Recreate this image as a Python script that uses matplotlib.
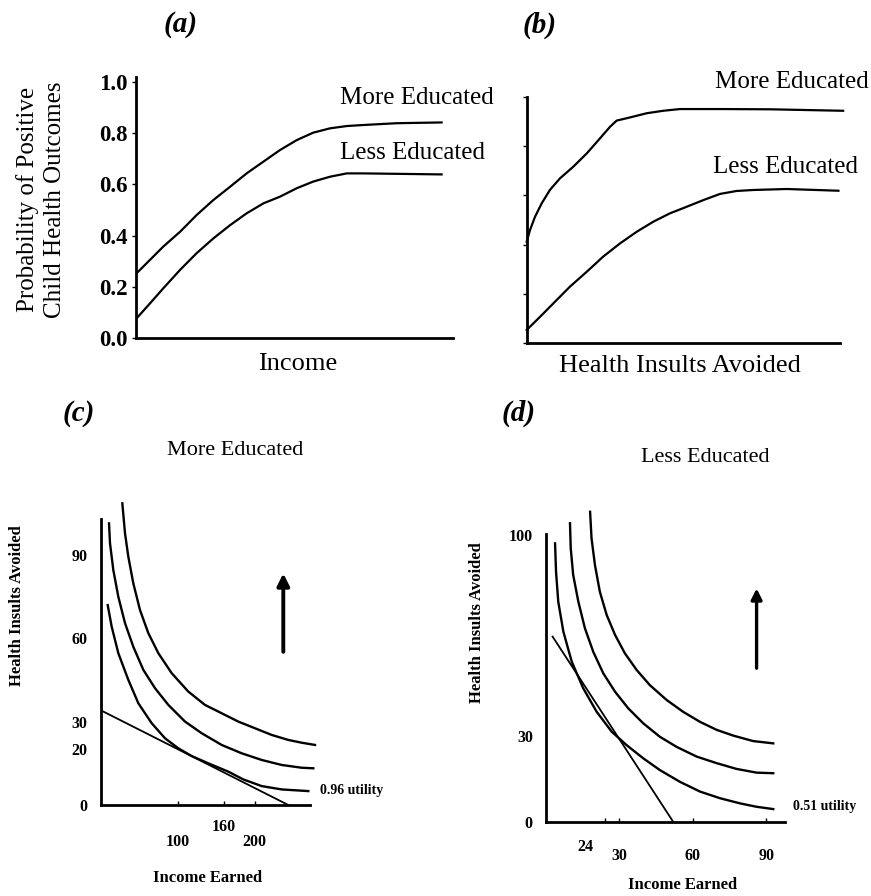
import matplotlib
matplotlib.use('Agg')
import matplotlib.pyplot as plt
import matplotlib.transforms as mtransforms

plt.rcParams['font.family'] = ['Liberation Serif', 'DejaVu Serif']

W, H = 871, 896

# (a) probability vs income
a_more_x = [0.2, 4.4, 8.6, 13.9, 19.1, 24.4, 29.7, 34.9, 40.2, 45.4, 50.7, 55.9,
            61.2, 66.5, 71.7, 82.2, 96.4]
a_more = [0.253, 0.305, 0.357, 0.415, 0.480, 0.539, 0.591, 0.643, 0.689, 0.734,
          0.773, 0.802, 0.819, 0.828, 0.832, 0.839, 0.842]
a_less_x = [0.2, 4.4, 8.6, 13.9, 19.1, 24.4, 29.7, 34.9, 40.2, 45.4, 50.7, 55.9,
            61.2, 66.5, 71.7, 96.4]
a_less = [0.077, 0.135, 0.194, 0.266, 0.331, 0.389, 0.441, 0.487, 0.526, 0.552,
          0.585, 0.611, 0.630, 0.643, 0.643, 0.639]
a_ticks = [0.0, 0.2, 0.4, 0.6, 0.8, 1.0]

# (b) probability vs health insults avoided
b_more_x = [0, 1.05, 2.65, 4.8, 7.4, 10.6, 14.9, 19.2, 23.4, 26.6, 28.7, 33.0,
            38.3, 43.6, 48.9, 61.7, 77.7, 101]
b_more = [0.412, 0.459, 0.513, 0.568, 0.622, 0.669, 0.717, 0.771, 0.832, 0.879,
          0.904, 0.917, 0.934, 0.944, 0.951, 0.951, 0.950, 0.944]
b_less_x = [0, 4.3, 8.5, 13.8, 19.2, 24.4, 29.8, 35.1, 40.4, 45.7, 51.1, 56.4,
            61.7, 67.0, 72.3, 83.0, 99.5]
b_less = [0.053, 0.107, 0.161, 0.229, 0.290, 0.351, 0.405, 0.452, 0.493, 0.527,
          0.554, 0.581, 0.606, 0.618, 0.622, 0.626, 0.619]

# (c) more educated: indifference curves and budget line
c_low_x = [9.1, 14.3, 22.9, 35.9, 48.9, 66.3, 83.6, 100.8, 118.3, 139.8, 165.8,
           185.3, 209.2, 235.2, 269.8]
c_low_y = [71.9, 64.1, 54.6, 45.0, 36.6, 29.4, 24.0, 20.4, 17.6, 15.0, 12.0,
           9.2, 6.8, 5.6, 5.0]
c_mid_x = [10.8, 12.1, 16.4, 22.9, 31.6, 42.4, 55.4, 70.6, 87.9, 109.6, 131.3,
           157.2, 183.2, 209.2, 235.2, 261.2, 276.3]
c_mid_y = [101.3, 94.1, 84.5, 74.9, 65.4, 56.9, 48.6, 42.0, 36.0, 30.0, 25.8,
           21.6, 18.6, 16.2, 14.4, 13.4, 13.2]
c_top_x = [28.1, 31.6, 35.9, 42.4, 51.1, 61.9, 74.9, 92.3, 113.8, 135.5, 157.2,
           178.8, 200.5, 222.2, 243.8, 261.2, 278.5]
c_top_y = [108.5, 97.7, 89.3, 79.7, 70.1, 61.8, 54.6, 47.4, 40.8, 36.0, 33.0,
           30.0, 27.6, 25.2, 23.4, 22.4, 21.6]
c_budget_x = [1.3, 243.8]
c_budget_y = [33.9, 0]
c_xticks = [100, 160, 200]
c_yticks = [0, 20, 30, 60, 90]
c_arrow_x = 237.3
c_arrow_y = [55.1, 83.3]

# (d) less educated: indifference curves and budget line
d_low_x = [3.7, 4.1, 5.0, 7.1, 10.5, 15.2, 20.7, 26.8, 32.9, 39.7, 46.5, 54.7,
           62.9, 71.0, 79.2, 86.0, 92.8]
d_low_y = [97.1, 87.2, 76.8, 66.3, 55.9, 46.6, 38.4, 31.5, 26.8, 22.2, 18.1,
           14.0, 10.6, 8.3, 6.5, 5.3, 4.5]
d_mid_x = [9.8, 10.1, 11.1, 13.2, 15.9, 19.3, 23.4, 28.2, 33.6, 39.7, 46.5,
           53.3, 61.5, 69.7, 77.8, 86.0, 92.8]
d_mid_y = [104.1, 95.4, 86.1, 76.8, 67.5, 59.3, 51.8, 45.4, 39.6, 34.4, 29.7,
           26.2, 22.8, 20.5, 18.5, 17.2, 17.0]
d_top_x = [18.0, 18.6, 20.0, 22.0, 24.8, 28.2, 32.2, 37.0, 42.4, 49.3, 56.0,
           62.9, 69.7, 76.5, 84.6, 92.8]
d_top_y = [108.1, 98.8, 89.5, 80.2, 72.1, 65.2, 58.8, 53.0, 47.7, 42.5, 38.4,
           34.9, 32.1, 30.1, 28.2, 27.4]
d_budget_x = [2.7, 52.0]
d_budget_y = [64.6, 0]
d_xticks = [24, 30, 60, 90]
d_yticks = [0, 30, 100]
d_arrow_x = 86.0
d_arrow_y = [53.6, 81.4]


def box(x0, y0, x1, y1):
    # pixel box -> figure fraction
    return [x0 / W, 1 - y1 / H, (x1 - x0) / W, (y1 - y0) / H]


def ftext(x, y, s, **kw):
    fig.text(x / W, 1 - y / H, s, ha='center', va='center', **kw)


def style(ax):
    for s in ['top', 'right']:
        ax.spines[s].set_visible(False)
    for s in ['left', 'bottom']:
        ax.spines[s].set_linewidth(2)


fig = plt.figure(figsize=(W / 100, H / 100), dpi=100)

# ---- (a)
ax = fig.add_axes(box(136, 82, 453, 338))
style(ax)
ax.plot(a_more_x, a_more, color='black', lw=1.6)
ax.plot(a_less_x, a_less, color='black', lw=1.6)
ax.set_xlim(0, 100)
ax.set_ylim(0, 1.0)
ax.spines['left'].set_bounds(0, 1.02)
ax.set_xticks([])
ax.set_yticks(a_ticks)
ax.set_yticklabels(['%.1f' % t for t in a_ticks], fontsize=16.5, fontweight='bold')
ax.tick_params(axis='y', length=3, width=1, pad=3)
ax.text(64.4, 0.9375, 'More Educated', fontsize=18, va='center', clip_on=False)
ax.text(64.4, 0.723, 'Less Educated', fontsize=18, va='center', clip_on=False)
ax.set_xlabel('Income', fontsize=19)
ax.xaxis.set_label_coords(0.511, -0.06)
ax.set_ylabel('Probability of Positive\nChild Health Outcomes', fontsize=18,
              va='center', linespacing=1.3)
ax.yaxis.set_label_coords(-0.30, 0.54)

# ---- (b)
ax = fig.add_axes(box(526.7, 97, 840, 343))
style(ax)
ax.plot(b_more_x, b_more, color='black', lw=1.6, clip_on=False)
ax.plot(b_less_x, b_less, color='black', lw=1.6, clip_on=False)
ax.set_xlim(0, 100)
ax.set_ylim(0, 1.0)
ax.set_xticks([])
ax.set_yticks(a_ticks)
ax.set_yticklabels([])
ax.tick_params(axis='y', length=3, width=1)
ax.text(60.1, 1.061, 'More Educated', fontsize=18, va='center', clip_on=False)
ax.text(59.5, 0.715, 'Less Educated', fontsize=18, va='center', clip_on=False)
ax.set_xlabel('Health Insults Avoided', fontsize=19)
ax.xaxis.set_label_coords(0.49, -0.05)

# ---- (c)
ax = fig.add_axes(box(100.7, 493.6, 310, 805))
style(ax)
for xs, ys in [(c_low_x, c_low_y), (c_mid_x, c_mid_y), (c_top_x, c_top_y)]:
    ax.plot(xs, ys, color='black', lw=1.7, clip_on=False)
ax.plot(c_budget_x, c_budget_y, color='black', lw=1.3)
ax.annotate('', xy=(c_arrow_x, c_arrow_y[1]), xytext=(c_arrow_x, c_arrow_y[0]),
            arrowprops=dict(arrowstyle='-|>', lw=2.8, color='black',
                            mutation_scale=18, shrinkA=0, shrinkB=0))
ax.set_xlim(0, 272)
ax.set_ylim(0, 112)
ax.spines['left'].set_bounds(0, 103)
ax.set_xticks(c_xticks)
ax.set_xticklabels([str(t) for t in c_xticks], fontsize=11.5, fontweight='bold')
ax.tick_params(axis='x', direction='in', length=3, width=1, pad=21)
ax.xaxis.get_major_ticks()[1].set_pad(10)
ax.set_yticks(c_yticks)
ax.set_yticklabels([str(t) for t in c_yticks], fontsize=11.5, fontweight='bold')
ax.tick_params(axis='y', length=0, pad=9.5)
ax.text(285, 5.2, '0.96 utility', fontsize=10, fontweight='bold', va='center',
        clip_on=False)
ax.set_xlabel('Income Earned', fontsize=12, fontweight='bold')
ax.xaxis.set_label_coords(0.51, -0.21)
ax.set_ylabel('Health Insults Avoided', fontsize=12, fontweight='bold', va='center')
ax.yaxis.set_label_coords(-0.40, 0.64)

# ---- (d)
ax = fig.add_axes(box(546, 500.6, 785, 822))
style(ax)
for xs, ys in [(d_low_x, d_low_y), (d_mid_x, d_mid_y), (d_top_x, d_top_y)]:
    ax.plot(xs, ys, color='black', lw=1.7, clip_on=False)
ax.plot(d_budget_x, d_budget_y, color='black', lw=1.3)
ax.annotate('', xy=(d_arrow_x, d_arrow_y[1]), xytext=(d_arrow_x, d_arrow_y[0]),
            arrowprops=dict(arrowstyle='-|>', lw=2.4, color='black',
                            mutation_scale=16, shrinkA=0, shrinkB=0))
ax.set_xlim(0, 97.6)
ax.set_ylim(0, 112)
ax.spines['left'].set_bounds(0, 100.5)
ax.set_xticks(d_xticks)
ax.set_xticklabels([str(t) for t in d_xticks], fontsize=11.5, fontweight='bold')
ax.tick_params(axis='x', direction='in', length=3, width=1, pad=19)
ax.xaxis.get_major_ticks()[0].set_pad(12)
ax.set_yticks(d_yticks)
ax.set_yticklabels([str(t) for t in d_yticks], fontsize=11.5, fontweight='bold')
ax.tick_params(axis='y', length=0, pad=9.5)
ax.text(100.8, 5.3, '0.51 utility', fontsize=10, fontweight='bold', va='center',
        clip_on=False)
ax.set_xlabel('Income Earned', fontsize=12, fontweight='bold')
ax.xaxis.set_label_coords(0.57, -0.17)
ax.set_ylabel('Health Insults Avoided', fontsize=12, fontweight='bold', va='center')
ax.yaxis.set_label_coords(-0.29, 0.62)
# the "24" label sits left of its tick in the original
lab24 = ax.xaxis.get_major_ticks()[0].label1
lab24.set_transform(lab24.get_transform() +
                    mtransforms.ScaledTranslation(-0.19, 0, fig.dpi_scale_trans))

# panel letters and subtitles
ftext(181, 25, '(a)', fontsize=21, fontweight='bold', style='italic')
ftext(540, 25, '(b)', fontsize=21, fontweight='bold', style='italic')
ftext(79, 413, '(c)', fontsize=21, fontweight='bold', style='italic')
ftext(519, 413, '(d)', fontsize=21, fontweight='bold', style='italic')
ftext(235, 450, 'More Educated', fontsize=16, fontweight='normal')
ftext(705, 457, 'Less Educated', fontsize=16, fontweight='normal')

fig.savefig('out.png', dpi=100)
